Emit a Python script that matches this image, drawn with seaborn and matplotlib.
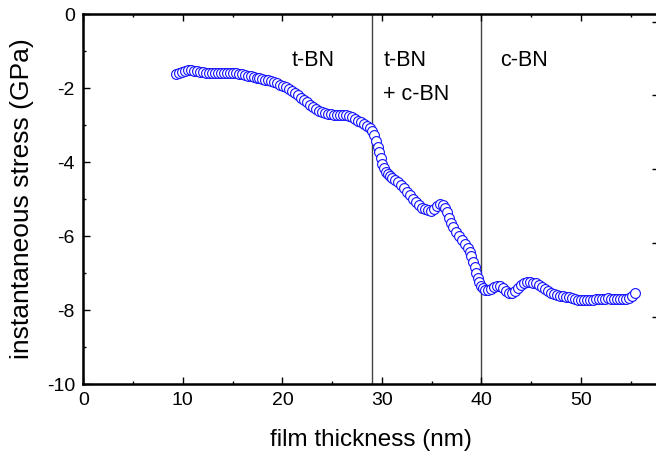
import numpy as np
import matplotlib
matplotlib.use("Agg")
from matplotlib import pyplot as plt
from matplotlib.ticker import MultipleLocator
import seaborn as sns

# film thickness (nm) and instantaneous stress (GPa)
thickness = [
    9.3, 9.6, 9.9, 10.2, 10.5, 10.8, 11.1, 11.4, 11.7, 12.0,
    12.3, 12.6, 12.9, 13.2, 13.5, 13.8, 14.1, 14.4, 14.7, 15.0,
    15.3, 15.6, 15.9, 16.2, 16.5, 16.8, 17.1, 17.4, 17.7, 18.0,
    18.3, 18.6, 18.9, 19.2, 19.5, 19.8, 20.1, 20.4, 20.7, 21.0,
    21.3, 21.6, 21.9, 22.2, 22.5, 22.8, 23.1, 23.4, 23.7, 24.0,
    24.3, 24.6, 24.9, 25.2, 25.5, 25.8, 26.1, 26.4, 26.7, 27.0,
    27.3, 27.6, 27.9, 28.2, 28.5, 28.8, 29.0, 29.2, 29.4, 29.6,
    29.75, 29.9, 30.05, 30.2, 30.4, 30.6, 30.8, 31.0, 31.3, 31.6,
    31.9, 32.2, 32.5, 32.8, 33.1, 33.4, 33.7, 34.0, 34.3, 34.6,
    34.9, 35.2, 35.5, 35.8, 36.1, 36.3, 36.5, 36.7, 36.9, 37.1,
    37.4, 37.7, 38.0, 38.3, 38.6, 38.8, 39.0, 39.2, 39.35, 39.5,
    39.65, 39.8, 40.0, 40.2, 40.4, 40.7, 41.0, 41.3, 41.6, 41.9,
    42.2, 42.5, 42.8, 43.1, 43.4, 43.7, 44.0, 44.3, 44.6, 44.9,
    45.2, 45.5, 45.8, 46.1, 46.4, 46.7, 47.0, 47.3, 47.6, 47.9,
    48.2, 48.5, 48.8, 49.1, 49.4, 49.7, 50.0, 50.3, 50.6, 50.9,
    51.2, 51.5, 51.8, 52.1, 52.4, 52.7, 53.0, 53.3, 53.6, 53.9,
    54.2, 54.5, 54.8, 55.1, 55.4,
]
stress = [
    -1.62, -1.60, -1.57, -1.54, -1.52, -1.52, -1.54, -1.55, -1.56, -1.57,
    -1.58, -1.58, -1.58, -1.58, -1.58, -1.58, -1.58, -1.58, -1.59, -1.59,
    -1.60, -1.61, -1.63, -1.65, -1.66, -1.68, -1.70, -1.72, -1.74, -1.76,
    -1.77, -1.79, -1.81, -1.84, -1.87, -1.91, -1.95, -1.98, -2.03, -2.08,
    -2.14, -2.20, -2.26, -2.32, -2.38, -2.45, -2.52, -2.57, -2.62, -2.65,
    -2.67, -2.69, -2.71, -2.72, -2.72, -2.72, -2.72, -2.73, -2.75, -2.78,
    -2.83, -2.88, -2.93, -2.98, -3.03, -3.09, -3.15, -3.26, -3.42, -3.58,
    -3.74, -3.90, -4.04, -4.16, -4.26, -4.33, -4.38, -4.42, -4.48, -4.55,
    -4.63, -4.71, -4.80, -4.90, -5.00, -5.09, -5.17, -5.23, -5.27, -5.30,
    -5.31, -5.27, -5.19, -5.13, -5.15, -5.24, -5.36, -5.52, -5.66, -5.76,
    -5.88, -6.00, -6.12, -6.22, -6.32, -6.42, -6.55, -6.70, -6.85, -7.00,
    -7.13, -7.24, -7.34, -7.41, -7.46, -7.47, -7.42, -7.37, -7.34, -7.35,
    -7.41, -7.49, -7.55, -7.55, -7.49, -7.40, -7.33, -7.28, -7.25, -7.25,
    -7.26, -7.28, -7.32, -7.37, -7.43, -7.49, -7.53, -7.57, -7.59, -7.61,
    -7.63, -7.64, -7.66, -7.68, -7.70, -7.72, -7.74, -7.74, -7.74, -7.73,
    -7.72, -7.71, -7.70, -7.69, -7.69, -7.68, -7.69, -7.70, -7.71, -7.71,
    -7.71, -7.70, -7.67, -7.62, -7.55,
]

phase_bounds = [29, 40]
phase_labels = ["t-BN", "t-BN", "+ c-BN", "c-BN"]
phase_label_x = [20.9, 30.2, 30.1, 41.9]
phase_label_y = [-1.4, -1.4, -2.33, -1.4]

sns.set_style("ticks")
plt.rcParams["font.family"] = ["Liberation Sans", "DejaVu Sans"]
plt.rcParams["axes.unicode_minus"] = False
plt.rcParams["text.color"] = "black"
plt.rcParams["axes.labelcolor"] = "black"
plt.rcParams["xtick.color"] = "black"
plt.rcParams["ytick.color"] = "black"
plt.rcParams["axes.edgecolor"] = "black"

fig = plt.figure(figsize=(6.56, 4.55), dpi=100)
ax = fig.add_axes([0.127, 0.156, 0.877, 0.813])

sns.scatterplot(x=thickness, y=stress, ax=ax, marker="o", s=50,
                facecolor="white", edgecolor="#1010ff", linewidth=0.8)

for xb in phase_bounds:
    ax.axvline(xb, color="#444444", linewidth=1.0, zorder=0)

for lx, ly, lab in zip(phase_label_x, phase_label_y, phase_labels):
    ax.text(lx, ly, lab, fontsize=15.5, va="baseline", ha="left")

ax.set_xlim(0, 57.8)
ax.set_ylim(-10, 0)
ax.xaxis.set_major_locator(MultipleLocator(10))
ax.xaxis.set_minor_locator(MultipleLocator(5))
ax.yaxis.set_major_locator(MultipleLocator(2))
ax.yaxis.set_minor_locator(MultipleLocator(1))
ax.tick_params(which="both", direction="in", top=True, right=False,
               width=1.0, labelsize=14, pad=6)
ax.tick_params(which="major", length=5)
ax.tick_params(which="minor", length=2.5)
for sp in ax.spines.values():
    sp.set_linewidth(1.8)

# ticks of the neighbouring panel, cut off at the right edge
ax2 = ax.twinx()
ax2.set_ylim(-9.8, 0.2)
ax2.yaxis.set_major_locator(MultipleLocator(2))
ax2.yaxis.set_minor_locator(MultipleLocator(1))
ax2.tick_params(which="both", direction="in", labelright=False, width=1.0)
ax2.tick_params(which="major", length=5)
ax2.tick_params(which="minor", length=2.5)

ax.set_xlabel("film thickness (nm)", fontsize=17.5, labelpad=14)
ax.set_ylabel("instantaneous stress (GPa)", fontsize=19, labelpad=9)

fig.savefig("out.png", dpi=100)
